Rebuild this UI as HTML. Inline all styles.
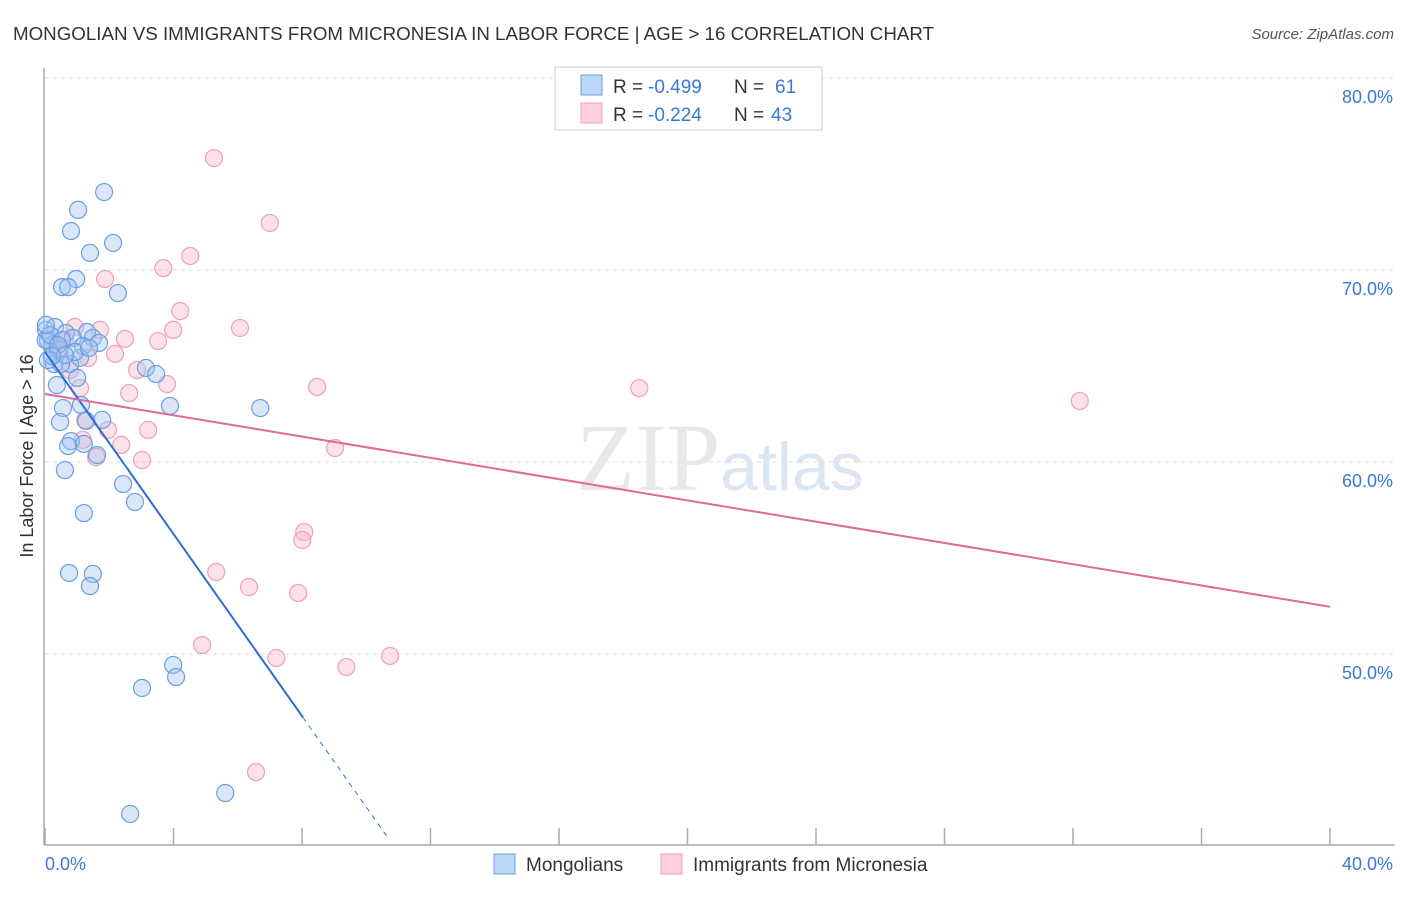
<!DOCTYPE html>
<html><head><meta charset="utf-8"><style>
body{margin:0;background:#fff;font-family:"Liberation Sans",sans-serif;}
</style></head><body>
<svg id="chart" width="1406" height="892" xmlns="http://www.w3.org/2000/svg" font-family="Liberation Sans, sans-serif">
<text x="13" y="40" font-size="18" fill="#333" textLength="921" lengthAdjust="spacingAndGlyphs">MONGOLIAN VS IMMIGRANTS FROM MICRONESIA IN LABOR FORCE | AGE &gt; 16 CORRELATION CHART</text>
<text x="1394" y="39" font-size="15" fill="#555" font-style="italic" text-anchor="end">Source: ZipAtlas.com</text>
<g id="grid"></g>
<text x="720" y="490" font-size="96" text-anchor="middle" fill="#e8e8e8" font-family="Liberation Serif, serif">ZIP<tspan fill="#dce6f3" font-family="Liberation Sans, sans-serif" font-size="68">atlas</tspan></text>
<g id="axes"></g>
<g id="marks"></g>
<text transform="translate(33,456) rotate(-90)" font-size="18" fill="#333" text-anchor="middle">In Labor Force | Age &gt; 16</text>
<g>
<rect x="555" y="67" width="267" height="63" fill="#fff" stroke="#ccc"/>
<rect x="581" y="75" width="21" height="20" fill="#bcd6f7" stroke="#6a9ee0"/>
<rect x="581" y="103" width="21" height="20" fill="#fcd0dd" stroke="#eea0b8"/>
<text x="613" y="93" font-size="19" fill="#333">R =</text>
<text x="648" y="93" font-size="19" fill="#3a78d4">-0.499</text>
<text x="734" y="93" font-size="19" fill="#333">N =</text>
<text x="775" y="93" font-size="19" fill="#3a78d4">61</text>
<text x="613" y="121" font-size="19" fill="#333">R =</text>
<text x="648" y="121" font-size="19" fill="#3a78d4">-0.224</text>
<text x="734" y="121" font-size="19" fill="#333">N =</text>
<text x="771" y="121" font-size="19" fill="#3a78d4">43</text>
</g>
<g>
<rect x="494" y="854" width="21" height="20" fill="#bcd6f7" stroke="#6a9ee0"/>
<text x="526" y="871" font-size="19" fill="#333">Mongolians</text>
<rect x="661" y="854" width="21" height="20" fill="#fcd0dd" stroke="#eea0b8"/>
<text x="693" y="871" font-size="19" fill="#333">Immigrants from Micronesia</text>
</g>
</svg>
<script>
const blueX=[1.84,1.03,0.81,2.12,1.40,0.97,0.53,0.72,2.27,0.03,0.31,0.65,1.31,0.09,0.22,0.87,1.49,1.68,1.18,0.40,1.09,0.28,0.78,0.50,1.00,3.14,3.46,0.37,0.56,1.12,1.78,0.47,1.28,0.81,1.21,0.72,1.62,0.62,2.43,2.80,1.21,0.75,1.49,1.40,3.99,4.08,3.02,5.61,2.65,3.89,6.70,0.09,0.02,0.16,0.53,0.40,0.93,0.62,1.37,0.22,0.03];
const blueY=[74.06,73.13,72.03,71.41,70.89,69.53,69.11,69.11,68.80,66.88,67.03,66.72,66.77,66.35,66.09,66.46,66.46,66.20,66.04,65.83,65.42,65.10,65.10,65.10,64.38,64.90,64.58,64.01,62.81,62.97,62.19,62.08,62.14,61.09,60.94,60.83,60.36,59.58,58.85,57.92,57.34,54.22,54.17,53.54,49.43,48.80,48.23,42.76,41.67,62.92,62.81,65.31,66.35,66.61,66.35,66.09,65.73,65.57,65.94,65.52,67.14];
const pinkX=[5.26,7.00,4.52,3.68,1.87,4.21,3.99,6.07,2.49,3.52,2.18,2.87,2.62,3.80,8.47,18.50,32.21,1.71,0.93,1.34,1.09,0.47,1.25,3.21,1.96,2.37,1.59,3.02,9.03,8.07,8.01,5.33,6.35,7.88,4.89,7.20,9.38,10.74,6.57,0.78,0.31,0.62,1.18];
const pinkY=[75.83,72.45,70.73,70.10,69.53,67.86,66.88,66.98,66.41,66.30,65.63,64.79,63.59,64.06,63.91,63.85,63.18,66.88,67.03,65.42,63.85,65.83,62.19,61.67,61.67,60.89,60.26,60.10,60.73,56.35,55.94,54.27,53.49,53.18,50.47,49.79,49.32,49.90,43.85,64.79,66.09,66.35,61.15];
const yTicks=[80,70,60,50];
const xTickLabels=["0.0%","40.0%"];
const blueTrend=[65.73,-2.37]; // intercept, slope
const pinkTrend=[63.54,-0.277];

const NS="http://www.w3.org/2000/svg";
const X=v=>45+v*32.125, Y=v=>78+(80-v)*19.2;
function mk(tag,attrs,parent){const e=document.createElementNS(NS,tag);for(const k in attrs)e.setAttribute(k,attrs[k]);parent.appendChild(e);return e;}
const grid=document.getElementById('grid'),axes=document.getElementById('axes'),marks=document.getElementById('marks');
yTicks.forEach(t=>{
  const l=mk('line',{x1:45,x2:1395,y1:Y(t),y2:Y(t),stroke:'#ddd','stroke-dasharray':'4,4'},grid);
  
  
  const tx=mk('text',{x:1393,y:Y(t)+25,'font-size':18,fill:'#3a78d4','text-anchor':'end'},grid);
  tx.textContent=t.toFixed(1)+'%';
  
  
});
mk('line',{x1:44,x2:44,y1:68,y2:845,stroke:'#aaa','stroke-width':1.5},axes);
mk('line',{x1:44,x2:1395,y1:845,y2:845,stroke:'#aaa','stroke-width':1.5},axes);
for(let i=0;i<=10;i++){const t=mk('line',{x1:X(i*4),x2:X(i*4),y1:828,y2:845,stroke:'#aaa','stroke-width':1.5},axes);}
const l0=mk('text',{x:45,y:870,'font-size':18,fill:'#3a78d4'},axes);l0.textContent=xTickLabels[0];


const l1=mk('text',{x:1393,y:870,'font-size':18,fill:'#3a78d4','text-anchor':'end'},axes);l1.textContent=xTickLabels[1];


pinkX.forEach((x,i)=>{const c=mk('circle',{cx:X(x),cy:Y(pinkY[i]),r:8.5,fill:'rgba(248,180,200,0.4)',stroke:'#eea0b8','stroke-width':1.2},marks);

});
blueX.forEach((x,i)=>{const c=mk('circle',{cx:X(x),cy:Y(blueY[i]),r:8.5,fill:'rgba(160,196,240,0.4)',stroke:'#6a9ee0','stroke-width':1.2},marks);

});
const bEnd=8.03,bDash=10.65;
const bl=mk('line',{x1:X(0),y1:Y(blueTrend[0]),x2:X(bEnd),y2:Y(blueTrend[0]+blueTrend[1]*bEnd),stroke:'#2a6fd6','stroke-width':2},marks);


const bd=mk('line',{x1:X(bEnd),y1:Y(blueTrend[0]+blueTrend[1]*bEnd),x2:X(bDash),y2:Y(blueTrend[0]+blueTrend[1]*bDash),stroke:'#2a6fd6','stroke-width':1,'stroke-dasharray':'5,5'},marks);


const pl=mk('line',{x1:X(0),y1:Y(pinkTrend[0]),x2:X(40),y2:Y(pinkTrend[0]+pinkTrend[1]*40),stroke:'#e06a94','stroke-width':2},marks);


</script>
</body></html>
